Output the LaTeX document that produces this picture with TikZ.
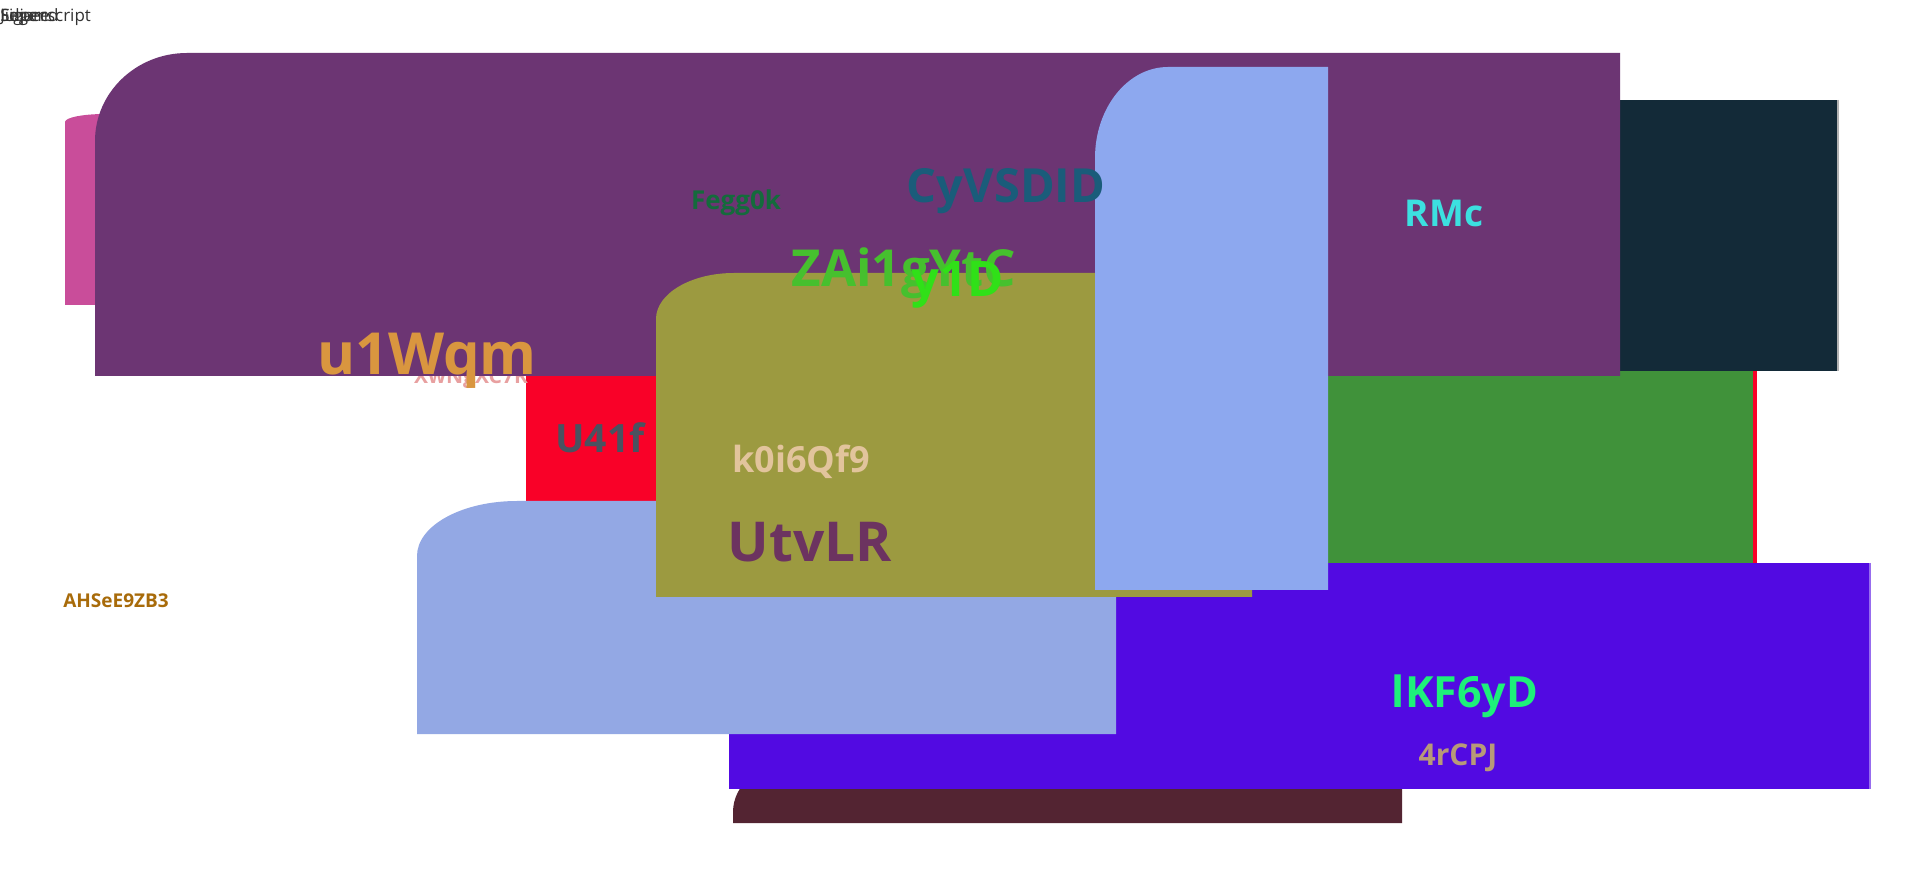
\documentclass[tikz,border=0pt]{standalone}
\usepackage{fontspec}
\setmainfont{Open Sans}
\definecolor{cpink}{HTML}{C94D9A}
\definecolor{cpurple}{HTML}{6C3573}
\definecolor{cnavy}{HTML}{132A38}
\definecolor{cred}{HTML}{F90128}
\definecolor{cgreen}{HTML}{40923A}
\definecolor{colive}{HTML}{9C9A40}
\definecolor{ctall}{HTML}{8DA8EF}
\definecolor{clb}{HTML}{93A8E4}
\definecolor{cindigo}{HTML}{520AE2}
\definecolor{cmaroon}{HTML}{532432}
\definecolor{tfegg}{HTML}{146B3C}
\definecolor{tcyv}{HTML}{1A5C7A}
\definecolor{tzai}{HTML}{46C02E}
\definecolor{tyid}{HTML}{30E018}
\definecolor{trmc}{HTML}{3CE0E0}
\definecolor{tuw}{HTML}{D9963F}
\definecolor{txw}{HTML}{E8A0A0}
\definecolor{tu41}{HTML}{4A5260}
\definecolor{tk0}{HTML}{E2C49C}
\definecolor{tutv}{HTML}{6C3360}
\definecolor{tahs}{HTML}{A86B0A}
\definecolor{tlkf}{HTML}{1EF07A}
\definecolor{t4r}{HTML}{B89A78}
\newcommand\fsz[1]{\fontsize{#1}{#1}\selectfont}
\newcommand\cbox[7]{% color, x1,y1,x2,y2, rx, ry
  \fill[#1] (#2,#5) -- (#2,{#3+#7}) .. controls (#2,{#3+0.448*#7}) and ({#2+0.448*#6},#3) .. ({#2+#6},#3) -- (#4,#3) -- (#4,#5) -- cycle;}
\tikzset{
  lbl/.style={anchor=base, inner sep=0pt, font=\bfseries},
  hdr/.style={anchor=base west, inner sep=0pt, text=black!80, font=\fsz{8.5}}
}
\begin{document}
\begin{tikzpicture}[x=0.5pt,y=-0.5pt]
\useasboundingbox[fill=white] (0,0) rectangle (1920,870);
% header jumble
\node[hdr] (h1) at (0,22) {Superscript};
\node[hdr] (h2) at (0,22) {Figure};
\node[hdr] (h3) at (0,22) {Legend};
\node[hdr] (h4) at (0,22) {Julia};
% shapes, back to front
\cbox{cpink}{65}{114}{200}{305}{40}{8}
\fill[cred] (526,340) rectangle (1757,564);
\fill[cgreen] (1200,340) rectangle (1753,564);
\fill[cnavy] (1500,100) rectangle (1838,371);
\draw[gray!60,line width=1pt] (1838,100) -- (1838,371);
\cbox{cmaroon}{733}{762}{1402}{823}{60}{50}
\fill[cindigo] (729,563) rectangle (1870,789);
\draw[cindigo!60!white,line width=1pt] (1870,563) -- (1870,789);
\node[lbl, text=txw, font=\bfseries\fsz{10.5}] (xw) at (471,384) {XwNgXC7R};
\cbox{cpurple}{95}{53}{1620}{376}{92}{88}
\cbox{clb}{417}{501}{1116}{734}{100}{55}
\cbox{colive}{656}{273}{1252}{597}{78}{46}
\cbox{ctall}{1095}{67}{1328}{590}{73}{91}
% labels
\node[lbl, text=tfegg, font=\bfseries\fsz{13}] (fegg) at (736,210) {Fegg0k};
\node[lbl, text=tcyv, font=\bfseries\fsz{23.5}] (cyv) at (1006,203) {CyVSDID};
\node[lbl, text=tzai, font=\bfseries\fsz{25.5}] (zai) at (904,287) {ZAi1gYtC};
\node[lbl, text=tyid, font=\bfseries\fsz{24.5}] (yid) at (958,297) {y1D};
\node[lbl, text=trmc, font=\bfseries\fsz{18.5}] (rmc) at (1444,227) {RMc};
\node[lbl, text=tuw, font=\bfseries\fsz{29}] (uw) at (427,375) {u1Wqm};
\node[lbl, text=tu41, font=\bfseries\fsz{19.5}] (u41) at (600,453) {U41f};
\node[lbl, text=tk0, font=\bfseries\fsz{18}] (k0) at (801,473) {k0i6Qf9};
\node[lbl, text=tutv, font=\bfseries\fsz{27.5}] (utv) at (810,562) {UtvLR};
\node[lbl, text=tahs, font=\bfseries\fsz{9.5}] (ahs) at (116,608) {AHSeE9ZB3};
\node[lbl, text=tlkf, font=\bfseries\fsz{21.5}] (lkf) at (1465,707) {lKF6yD};
\node[lbl, text=t4r, font=\bfseries\fsz{15}] (fr) at (1458,765) {4rCPJ};
\end{tikzpicture}
\end{document}
